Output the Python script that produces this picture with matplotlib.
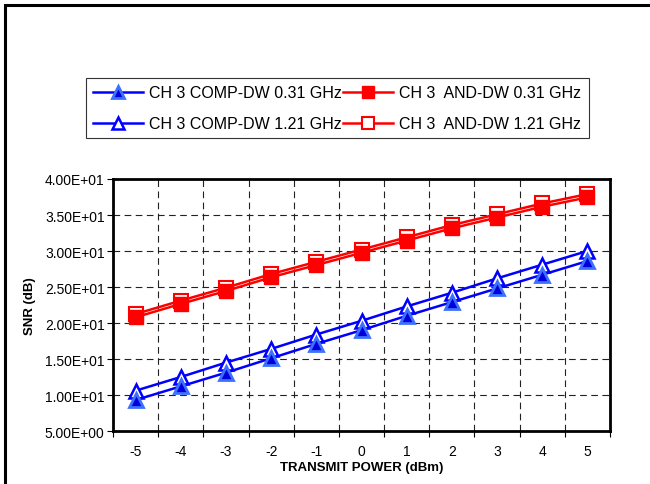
import matplotlib
matplotlib.use("Agg")
import matplotlib.pyplot as plt
from matplotlib.patches import Rectangle
import numpy as np

plt.rcParams['font.family'] = ['Liberation Sans', 'DejaVu Sans']

power = [-5, -4, -3, -2, -1, 0, 1, 2, 3, 4, 5]
comp_031 = [9.3, 11.2, 13.1, 15.1, 17.1, 19.0, 21.0, 22.9, 24.8, 26.7, 28.6]
comp_121 = [10.6, 12.5, 14.5, 16.4, 18.4, 20.3, 22.3, 24.2, 26.2, 28.1, 30.0]
and_031 = [20.8, 22.65, 24.45, 26.35, 28.05, 29.75, 31.45, 33.15, 34.65, 36.15, 37.45]
and_121 = [21.25, 23.1, 24.9, 26.8, 28.5, 30.2, 31.9, 33.6, 35.1, 36.6, 37.9]
labels = ["CH 3 COMP-DW 0.31 GHz", "CH 3 COMP-DW 1.21 GHz",
          "CH 3  AND-DW 0.31 GHz", "CH 3  AND-DW 1.21 GHz"]
yticks = [5, 10, 15, 20, 25, 30, 35, 40]

W, H = 650, 485
fig = plt.figure(figsize=(6.5, 4.85), dpi=100)
fig.patch.set_facecolor('white')
# outer frame (only left/top visible)
fig.add_artist(Rectangle((5 / W, -0.1), 1.2, 1 - 6 / H + 0.1, transform=fig.transFigure,
                         fill=False, edgecolor='black', linewidth=2.2))

ax = fig.add_axes([113 / W, 1 - 432 / H, (610 - 113) / W, (432 - 180) / H])
x = np.arange(len(power))

blue = '#0000FF'
red = '#FF0000'
lw = 1.8
ms = 10
h2, = ax.plot(x, comp_121, color=blue, lw=lw, marker='^', ms=ms, mfc='white', mec=blue, mew=1.8, zorder=3)
h1, = ax.plot(x, comp_031, color=blue, lw=lw, marker='^', ms=ms, mfc='#0000DD', mec='#3D70FF', mew=2.0, zorder=4)
h4, = ax.plot(x, and_121, color=red, lw=lw, marker='s', ms=ms, mfc='white', mec=red, mew=1.5, zorder=3)
h3, = ax.plot(x, and_031, color=red, lw=lw, marker='s', ms=ms, mfc=red, mec=red, mew=1.0, zorder=4)

ax.set_xlim(-0.5, len(power) - 0.5)
ax.set_ylim(5, 40)
ax.set_yticks(yticks)
ax.set_yticklabels([f"{v:.2E}" for v in yticks], fontsize=10)
ax.set_xticks(x)
ax.set_xticklabels([str(p) for p in power], fontsize=10)
ax.tick_params(axis='x', which='major', length=0, pad=9)
ax.set_xticks(np.arange(-0.5, len(power), 1.0), minor=True)
ax.tick_params(axis='x', which='minor', length=4, width=0.8, direction='out')
ax.tick_params(axis='y', which='major', length=4, width=0.8, direction='out', pad=2)

for b in np.arange(0.5, len(power) - 0.5, 1.0):
    ax.axvline(b, color='#222222', lw=0.8, ls=(0, (6, 4)), zorder=1)
for v in yticks[1:-1]:
    ax.axhline(v, color='#222222', lw=0.8, ls=(0, (6, 4)), zorder=1)
for s in ax.spines.values():
    s.set_linewidth(2.0)

fig.text(362 / W, 1 - 468 / H, "TRANSMIT POWER (dBm)", ha='center', va='center',
         fontsize=9.5, fontweight='bold')
fig.text(30 / W, 1 - 306 / H, "SNR (dB)", ha='center', va='center', rotation=90,
         fontsize=9.5, fontweight='bold')

leg = fig.legend([h1, h2, h3, h4], labels, ncol=2, loc='upper left',
                 bbox_to_anchor=(86 / W, 1 - 79 / H), fontsize=11.5, frameon=True,
                 fancybox=False, edgecolor='black', handlelength=3.1, markerscale=0.85,
                 handletextpad=0.4, columnspacing=0.1, borderpad=0.45, labelspacing=1.0,
                 borderaxespad=0)
leg.get_frame().set_linewidth(0.8)

fig.savefig("out.png", dpi=100)
